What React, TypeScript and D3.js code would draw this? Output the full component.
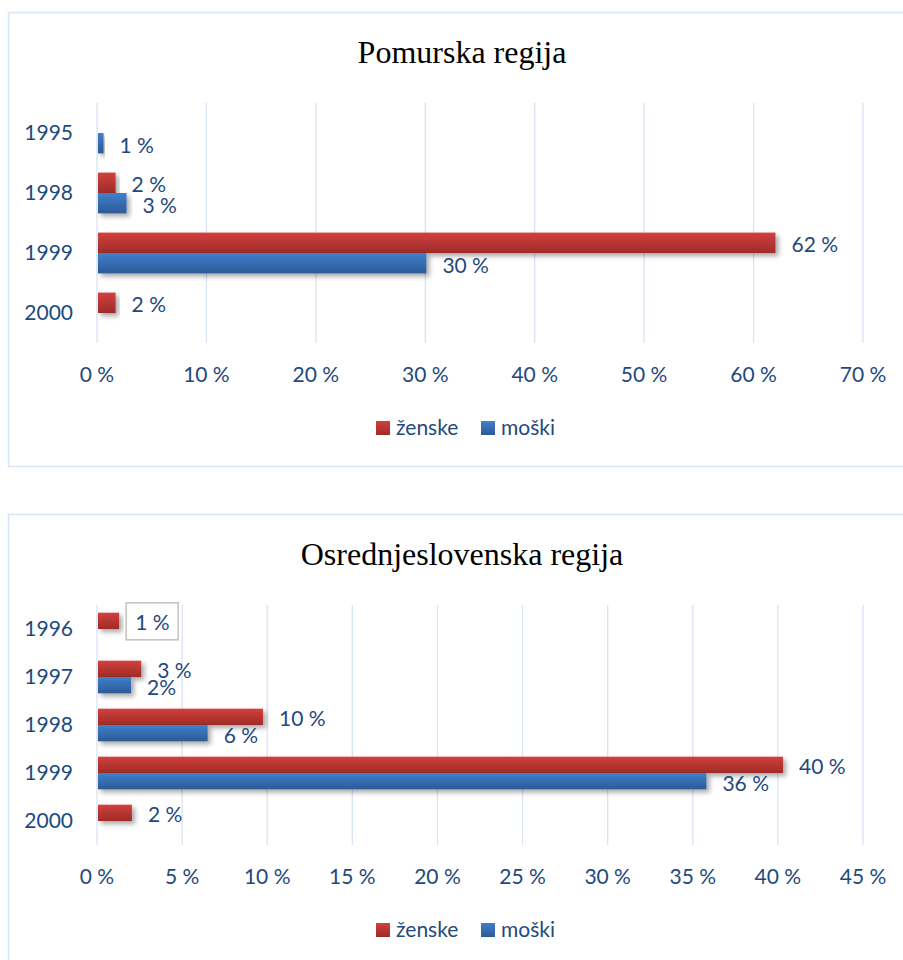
import * as d3 from "d3";

const SERIES = ["ženske", "moški"];

const pomurskaYears = ["1995", "1998", "1999", "2000"];
const pomurskaZenske = [null, 1.7, 62.0, 1.7];
const pomurskaMoski = [0.6, 2.7, 30.1, null];
const pomurskaZenskeLabels = [null, "2 %", "62 %", "2 %"];
const pomurskaMoskiLabels = ["1 %", "3 %", "30 %", null];
const pomurskaTicks = [0, 10, 20, 30, 40, 50, 60, 70];

const osrednjeYears = ["1996", "1997", "1998", "1999", "2000"];
const osrednjeZenske = [1.3, 2.6, 9.75, 40.3, 2.05];
const osrednjeMoski = [null, 2.0, 6.5, 35.8, null];
const osrednjeZenskeLabels = ["1 %", "3 %", "10 %", "40 %", "2 %"];
const osrednjeMoskiLabels = [null, "2%", "6 %", "36 %", null];
const osrednjeTicks = [0, 5, 10, 15, 20, 25, 30, 35, 40, 45];

const TEXT = "#1f497d";
const GRID = "#d9e4f4";
const FONT = "Lato, 'Open Sans', sans-serif";
const FS = 21;

interface ChartProps {
  title: string;
  years: string[];
  zenske: (number | null)[];
  moski: (number | null)[];
  zenskeLabels: (string | null)[];
  moskiLabels: (string | null)[];
  ticks: number[];
  top: number;
  boxedLabel?: number;
}

function Chart({ title, years, zenske, moski, zenskeLabels, moskiLabels, ticks, top, boxedLabel }: ChartProps) {
  const x = d3.scaleLinear()
    .domain([0, ticks[ticks.length - 1]])
    .range([97, 863]);

  const plotTop = top + 91;
  const plotBottom = plotTop + 240;

  const y = d3.scaleBand<string>()
    .domain(years)
    .range([plotTop, plotBottom])
    .paddingInner(0.32)
    .paddingOuter(0.16);

  const ySeries = d3.scaleBand<string>()
    .domain(SERIES)
    .range([0, y.bandwidth()]);

  const rows = years.flatMap((yr, i) => [
    { yr, s: SERIES[0], v: zenske[i], label: zenskeLabels[i], i },
    { yr, s: SERIES[1], v: moski[i], label: moskiLabels[i], i },
  ]);

  return (
    <g>
      {/* chart frame */}
      <rect x={8.5} y={top + 0.5} width={910} height={454} fill="#fff" stroke={GRID} strokeWidth={1.5} />

      <text x={462} y={top + 51} textAnchor="middle" fontFamily="'Liberation Serif', 'Times New Roman', serif"
        fontSize={32} fill="#000">{title}</text>

      {/* gridlines */}
      {ticks.map((t) => (
        <line key={t} x1={x(t)} x2={x(t)} y1={plotTop} y2={plotBottom} stroke={GRID} strokeWidth={1.3} />
      ))}

      {/* bars */}
      {rows.filter((r) => r.v != null).map((r) => {
        const by = (y(r.yr) ?? 0) + (ySeries(r.s) ?? 0);
        const h = ySeries.bandwidth();
        return (
          <rect key={r.yr + r.s} x={x(0) + 1} y={by} width={x(r.v as number) - x(0) - 1} height={h}
            fill={r.s === SERIES[0] ? "url(#gradRed)" : "url(#gradBlue)"} filter="url(#shadow)" />
        );
      })}

      {/* data labels */}
      {rows.filter((r) => r.label != null).map((r) => {
        const cy = (y(r.yr) ?? 0) + (ySeries(r.s) ?? 0) + ySeries.bandwidth() / 2;
        const lx = x(r.v as number) + 16;
        const boxed = boxedLabel === r.i && r.s === SERIES[0];
        return (
          <g key={"l" + r.yr + r.s}>
            {boxed && (
              <rect x={lx - 9} y={cy - 18} width={52} height={37} fill="#fff" stroke="#c0c0c0" strokeWidth={1.5} />
            )}
            <text x={lx} y={cy + 2} dy="0.35em" fontFamily={FONT} fontSize={FS} fill={TEXT}>{r.label}</text>
          </g>
        );
      })}

      {/* category labels */}
      {years.map((yr) => (
        <text key={yr} x={73} y={(y(yr) ?? 0) + y.bandwidth() / 2} dy="0.35em" textAnchor="end"
          fontFamily={FONT} fontSize={FS} fill={TEXT}>{yr}</text>
      ))}

      {/* x tick labels */}
      {ticks.map((t) => (
        <text key={"t" + t} x={x(t)} y={plotBottom + 32} dy="0.35em" textAnchor="middle"
          fontFamily={FONT} fontSize={FS} fill={TEXT}>{`${t} %`}</text>
      ))}

      {/* legend */}
      <rect x={376} y={top + 409} width={14} height={14} fill="url(#gradRed)" />
      <text x={396} y={top + 416} dy="0.35em" fontFamily={FONT} fontSize={FS} fill={TEXT}>{SERIES[0]}</text>
      <rect x={481} y={top + 409} width={14} height={14} fill="url(#gradBlue)" />
      <text x={501} y={top + 416} dy="0.35em" fontFamily={FONT} fontSize={FS} fill={TEXT}>{SERIES[1]}</text>
    </g>
  );
}

export default function App() {
  return (
    <svg width={903} height={960} style={{ position: "absolute", left: 0, top: 0, background: "#fff" }}>
      <defs>
        <linearGradient id="gradRed" x1="0" y1="0" x2="0" y2="1">
          <stop offset="0%" stopColor="#d2413d" />
          <stop offset="100%" stopColor="#9e2b29" />
        </linearGradient>
        <linearGradient id="gradBlue" x1="0" y1="0" x2="0" y2="1">
          <stop offset="0%" stopColor="#4080cc" />
          <stop offset="100%" stopColor="#2c5a96" />
        </linearGradient>
        <filter id="shadow" x="-10%" y="-30%" width="130%" height="190%">
          <feDropShadow dx={3} dy={3} stdDeviation={2.5} floodColor="#000" floodOpacity={0.35} />
        </filter>
      </defs>
      <rect width={903} height={960} fill="#fff" />
      <Chart title="Pomurska regija" years={pomurskaYears} zenske={pomurskaZenske} moski={pomurskaMoski}
        zenskeLabels={pomurskaZenskeLabels} moskiLabels={pomurskaMoskiLabels} ticks={pomurskaTicks} top={12} />
      <Chart title="Osrednjeslovenska regija" years={osrednjeYears} zenske={osrednjeZenske} moski={osrednjeMoski}
        zenskeLabels={osrednjeZenskeLabels} moskiLabels={osrednjeMoskiLabels} ticks={osrednjeTicks} top={514}
        boxedLabel={0} />
    </svg>
  );
}
